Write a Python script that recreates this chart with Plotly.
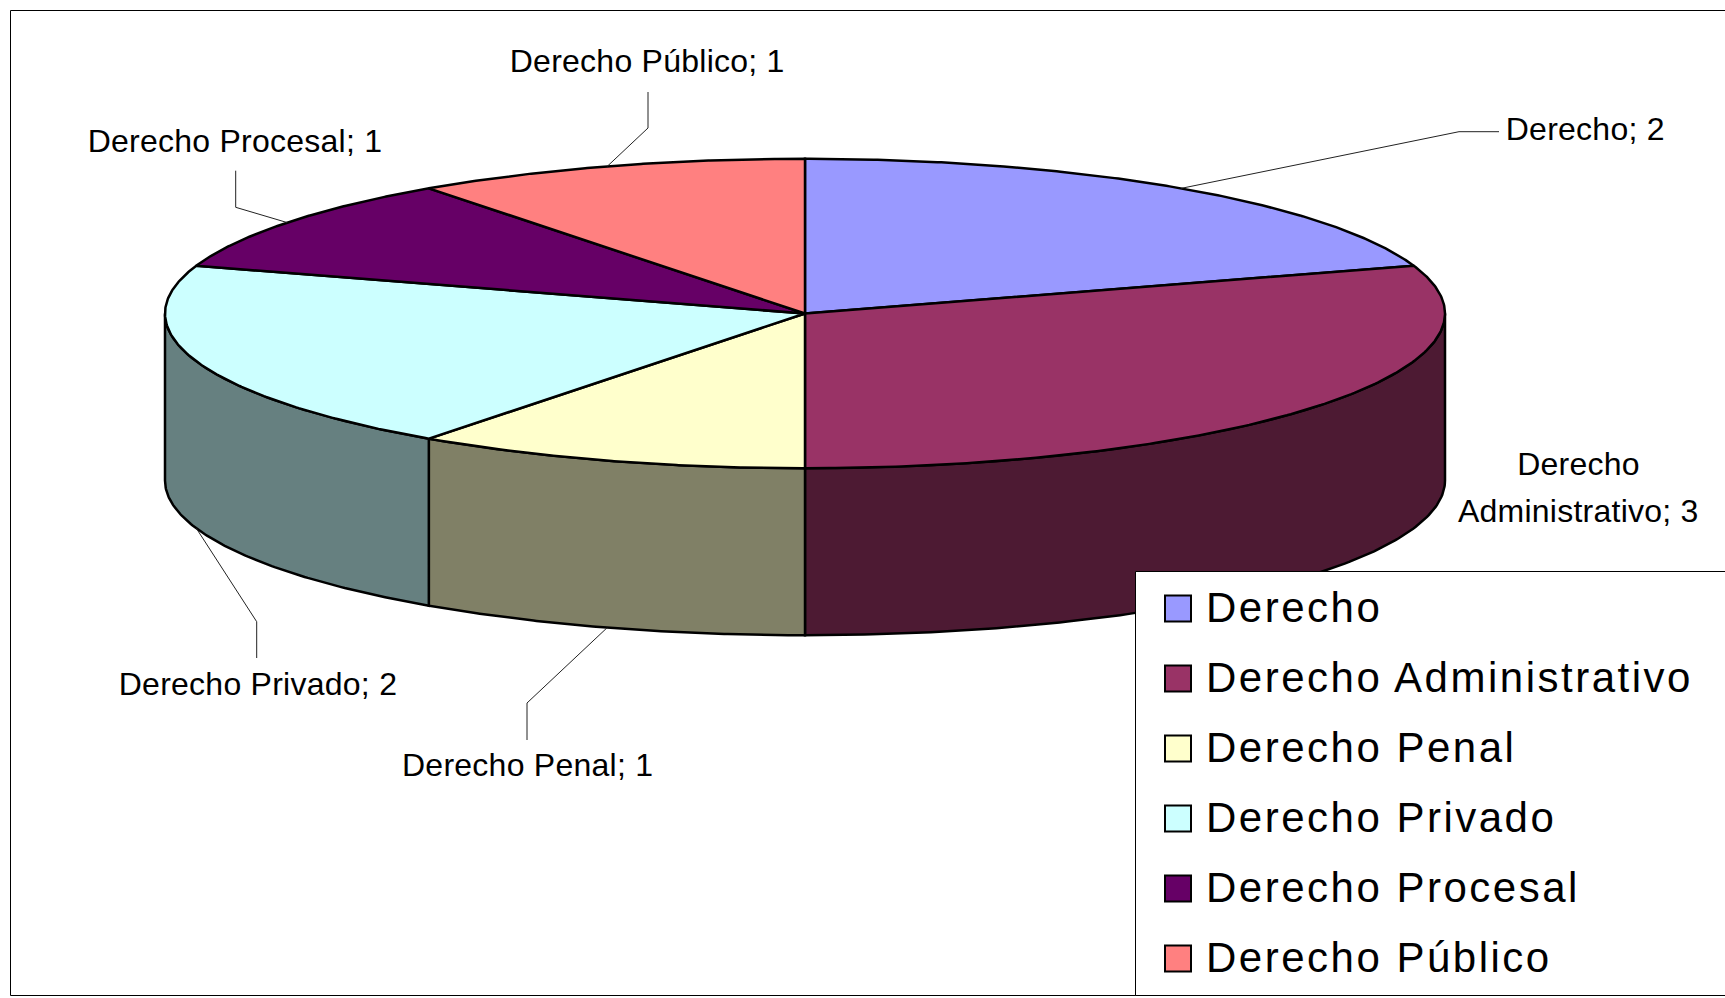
import numpy as np
import plotly.graph_objects as go

# ---------------- data ----------------
categories = ["Derecho", "Derecho Administrativo", "Derecho Penal",
              "Derecho Privado", "Derecho Procesal", "Derecho Público"]
values = [2, 3, 1, 2, 1, 1]
top_colors = ["#9999FF", "#993366", "#FFFFCC", "#CCFFFF", "#660066", "#FF8080"]
side_colors = ["#4D4D80", "#4D1A33", "#808066", "#668080", "#330033", "#804040"]

# ---------------- layout constants (pixel space) ----------------
W, H = 1725, 998
CX, CY, RX, RY, DEPTH = 805.0, 313.5, 640.0, 154.7, 167.0
FONT = "Liberation Sans, Arial, sans-serif"

# label placement (text centre) and leader-line bend points, per category
label_pos = [(1585, 129.4), (1578, 487.5), (527, 765), (258, 683.5), (235, 140.9), (646.5, 60.9)]
label_lines = [["Derecho; 2"], ["Derecho", "Administrativo; 3"], ["Derecho Penal; 1"],
               ["Derecho Privado; 2"], ["Derecho Procesal; 1"], ["Derecho Público; 1"]]
leader_bends = [[(1499, 131.7), (1459, 131.7)], [], [(527, 740), (527, 703)],
                [(256.7, 658), (256.7, 621.7)], [(235.7, 170.7), (235.7, 207.3)],
                [(648, 92), (648, 128)]]


def pt(theta_deg, drop=0.0):
    t = np.radians(theta_deg)
    return CX + RX * np.sin(t), CY - RY * np.cos(t) + drop


total = float(sum(values))
cum = np.concatenate([[0.0], np.cumsum(values)]) / total * 360.0

fig = go.Figure()

# side walls (visible front half: 90..270 deg clockwise from top)
for i, cat in enumerate(categories):
    a0, a1 = cum[i], cum[i + 1]
    s0, s1 = max(a0, 90.0), min(a1, 270.0)
    if s0 < s1:
        th = np.linspace(s0, s1, 120)
        xt, yt = pt(th)
        xb, yb = pt(th[::-1], DEPTH)
        xs = np.concatenate([xt, xb, xt[:1]])
        ys = np.concatenate([yt, yb, yt[:1]])
        fig.add_trace(go.Scatter(x=xs, y=ys, mode="lines", fill="toself",
                                 fillcolor=side_colors[i],
                                 line=dict(color="black", width=2.5),
                                 hoverinfo="skip", showlegend=False))

# top faces
for i, cat in enumerate(categories):
    a0, a1 = cum[i], cum[i + 1]
    th = np.linspace(a0, a1, 200)
    xa, ya = pt(th)
    xs = np.concatenate([[CX], xa, [CX]])
    ys = np.concatenate([[CY], ya, [CY]])
    fig.add_trace(go.Scatter(x=xs, y=ys, mode="lines", fill="toself",
                             fillcolor=top_colors[i],
                             line=dict(color="black", width=2.5),
                             name=cat, hoverinfo="skip", showlegend=False))

# leader lines + labels
annotations = []
for i, cat in enumerate(categories):
    mid = (cum[i] + cum[i + 1]) / 2.0
    front = np.cos(np.radians(mid)) < 0
    ax_, ay_ = pt(mid, DEPTH if front else 0.0)
    bends = leader_bends[i]
    if bends:
        lx = [b[0] for b in bends] + [ax_]
        ly = [b[1] for b in bends] + [ay_]
        fig.add_trace(go.Scatter(x=lx, y=ly, mode="lines",
                                 line=dict(color="#222222", width=1),
                                 hoverinfo="skip", showlegend=False))
    lines = label_lines[i]
    cx, cy = label_pos[i]
    n = len(lines)
    for k, txt in enumerate(lines):
        yk = cy + (k - (n - 1) / 2.0) * 46.7
        annotations.append(dict(x=cx, y=yk, xref="x", yref="y", text=txt,
                                showarrow=False, xanchor="center", yanchor="middle",
                                font=dict(family=FONT, size=32, color="black")))

shapes = []
# chart area border
shapes.append(dict(type="rect", xref="x", yref="y", x0=10.5, y0=10.5, x1=W + 30, y1=995.5,
                   line=dict(color="black", width=1), fillcolor="rgba(0,0,0,0)", layer="below"))
# legend box
shapes.append(dict(type="rect", xref="x", yref="y", x0=1135.5, y0=571.5, x1=W + 30, y1=995.5,
                   line=dict(color="black", width=1), fillcolor="white", layer="above"))
for i, cat in enumerate(categories):
    yc = 608.5 + 70 * i
    shapes.append(dict(type="rect", xref="x", yref="y", x0=1165, y0=yc - 13, x1=1191, y1=yc + 13,
                       line=dict(color="black", width=2), fillcolor=top_colors[i], layer="above"))
    annotations.append(dict(x=1204, y=yc - 1, xref="x", yref="y", text=cat, showarrow=False,
                            xanchor="left", yanchor="middle",
                            font=dict(family=FONT, size=42, color="black")))

fig.update_layout(
    width=W, height=H,
    margin=dict(l=0, r=0, t=0, b=0),
    paper_bgcolor="white", plot_bgcolor="white",
    xaxis=dict(range=[0, W], visible=False, fixedrange=True),
    yaxis=dict(range=[H, 0], visible=False, fixedrange=True),
    shapes=shapes, annotations=annotations,
    showlegend=False,
)

post = """
document.body.style.margin='0';
document.querySelectorAll('.annotation-text').forEach(function(t){
  if (t.style.fontSize === '42px') {
    var b0 = t.getBBox();
    t.style.letterSpacing = '2.5px';
    var b1 = t.getBBox();
    var dx = b0.x - b1.x;
    var shift = function(el){
      if (el.hasAttribute('x')) { el.setAttribute('x', parseFloat(el.getAttribute('x')) + dx); }
    };
    shift(t);
    t.querySelectorAll('tspan').forEach(shift);
  } else if (t.style.fontSize === '32px') {
    t.style.letterSpacing = '0.25px';
  }
});
"""

fig.write_html("out.html", config={"displayModeBar": False}, post_script=post)
